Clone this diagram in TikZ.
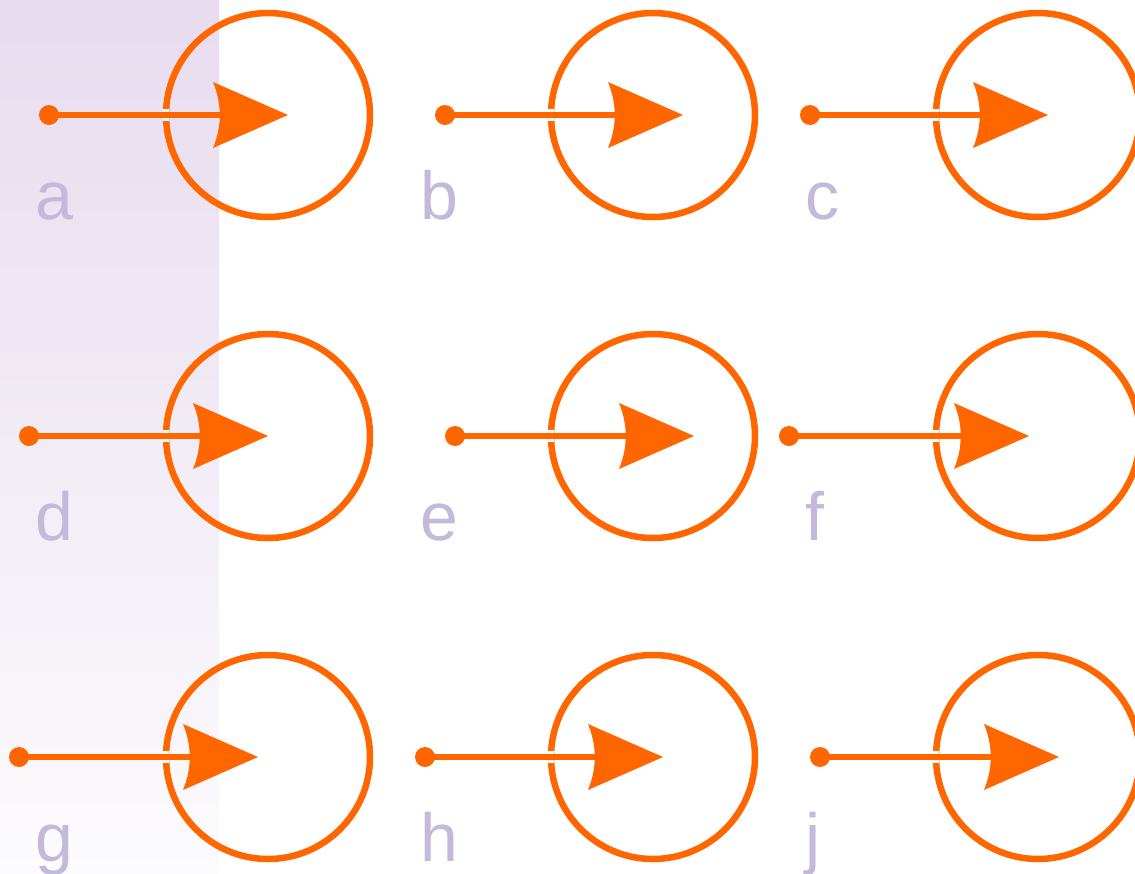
\documentclass[tikz,border=0pt]{standalone}
\usepackage{fontspec}
\setmainfont{Liberation Sans}
\usetikzlibrary{arrows.meta}
\definecolor{arrowor}{HTML}{FF6600}
\definecolor{lablav}{HTML}{C2B9DB}
\definecolor{bandtop}{HTML}{E7DCEE}
\definecolor{bandbot}{HTML}{FCFBFD}
\pgfdeclarearrow{
  name=CStealth,
  setup code={
    \pgfarrowssettipend{0pt}
    \pgfarrowssetlineend{-60pt}
    \pgfarrowssetbackend{-75pt}
    \pgfarrowshullpoint{0pt}{0pt}
    \pgfarrowshullpoint{-75pt}{33pt}
    \pgfarrowshullpoint{-75pt}{-33pt}
  },
  drawing code={
    \pgfpathmoveto{\pgfqpoint{0pt}{0pt}}
    \pgfpathlineto{\pgfqpoint{-75pt}{33pt}}
    \pgfpathcurveto{\pgfqpoint{-66pt}{11pt}}{\pgfqpoint{-66pt}{-11pt}}{\pgfqpoint{-75pt}{-33pt}}
    \pgfpathclose
    \pgfusepathqfill
  }
}
\tikzset{
  ring/.style={circle, draw=arrowor, line width=6.5pt, inner sep=0pt, minimum size=204pt},
  dotnode/.style={circle, fill=arrowor, inner sep=0pt, minimum size=20pt},
  conn/.style={draw=arrowor, line width=6pt, -{CStealth}},
  lab/.style={anchor=base west, inner sep=0pt, text=lablav, font=\fontsize{68}{68}\selectfont}
}
\begin{document}
\begin{tikzpicture}[x=1pt,y=-1pt]
\useasboundingbox (0,0) rectangle (1135,873);
\shade[top color=bandtop, bottom color=bandbot] (0,0) rectangle (219,873);
\foreach \nm/\cx/\cy/\dx/\tx in {a/268/115/49/288, b/653/115/445/683, c/1038/115/810/1048,
  d/268/436/29/268, e/653/436/455/694, f/1038/436/789/1029,
  g/268/757/19/258, h/653/757/425/663, j/1038/757/820/1059}{
  \node[ring] (r\nm) at (\cx,\cy) {};
  \begin{scope}
    \clip (\cx,\cy) circle[radius=105.5pt];
    \fill[white] ([xshift=-6pt,yshift=-6pt]r\nm.west) rectangle ([xshift=6pt,yshift=6pt]r\nm.west);
  \end{scope}
  \node[dotnode] (d\nm) at (\dx,\cy) {};
  \coordinate (t\nm) at (\tx,\cy);
  \draw[conn] (d\nm.center) -- (t\nm);
  \node[lab] (l\nm) at (\cx-233,\cy+104) {\nm};
}
\end{tikzpicture}
\end{document}
